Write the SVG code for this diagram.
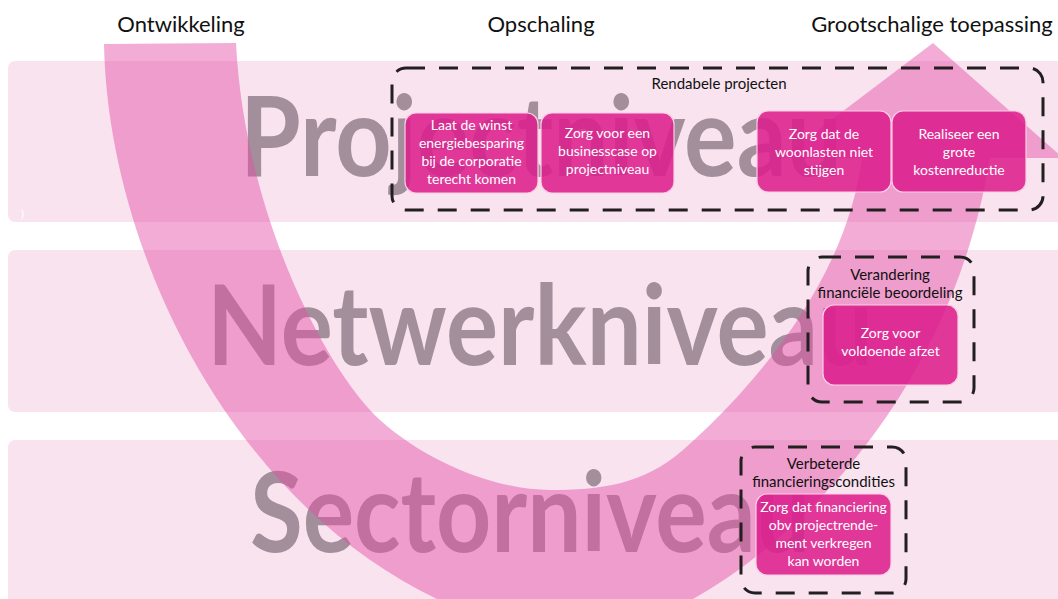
<svg xmlns="http://www.w3.org/2000/svg" width="1058" height="599" viewBox="0 0 1058 599">
<style>
.band{fill:#f9e3ef}
.big{font-family:Lato,"Open Sans",sans-serif;font-weight:700;font-size:112px;fill:#a38e9b}
.hdr{font-family:Lato,"Open Sans",sans-serif;font-size:22px;fill:#111;text-anchor:middle}
.grp{fill:none;stroke:#231f20;stroke-width:3;stroke-dasharray:19 14;stroke-linecap:butt}
.glbl{font-family:Lato,"Open Sans",sans-serif;font-size:15px;fill:#111;text-anchor:middle}
.box{fill:#dc1f8d;fill-opacity:0.88;stroke:#f9cfe5;stroke-width:1.2}
.btxt{font-family:Lato,"Open Sans",sans-serif;font-size:14px;fill:#fff;text-anchor:middle}
</style>
<rect width="1058" height="599" fill="#fff"/>
<g id="bands">
<rect class="band" x="8" y="61" width="1070" height="161" rx="7"/>
<rect class="band" x="8" y="250" width="1070" height="162" rx="7"/>
<rect class="band" x="8" y="440" width="1070" height="180" rx="7"/>
<text x="21" y="218" font-family="Lato,sans-serif" font-size="11" fill="#fff">)</text>
</g>
<g id="levels">
<text class="big" x="240" y="176" textLength="602" lengthAdjust="spacingAndGlyphs">Projectniveau</text>
<text class="big" x="207" y="365" textLength="666" lengthAdjust="spacingAndGlyphs">Netwerkniveau</text>
<text class="big" x="250" y="552" textLength="560" lengthAdjust="spacingAndGlyphs">Sectorniveau</text>
</g>
<g id="connectors">
<path id="arrow" fill="#e34fa5" fill-opacity="0.47" d="M104,44 C108,250 230,500 437,599 C497,628 633,628 693,599 C790,545 950,400 990,158 L1063,158 L933,43 L781,158 L862,158 C845,290 740,400 683,450 C643,485 600,490 550,490 C500,490 430,465 380,420 C330,375 245,220 236,43 Z"/>
</g>
<g id="headers">
<text class="hdr" x="181" y="32">Ontwikkeling</text>
<text class="hdr" x="541" y="32">Opschaling</text>
<text class="hdr" x="932" y="32">Grootschalige toepassing</text>
</g>
<g id="box1">
<rect class="box" x="405" y="113" width="133" height="80" rx="11"/>
<text class="btxt" x="471.5" y="130">Laat de winst</text>
<text class="btxt" x="471.5" y="148">energiebesparing</text>
<text class="btxt" x="471.5" y="166">bij de corporatie</text>
<text class="btxt" x="471.5" y="184">terecht komen</text>
</g>
<g id="box2">
<rect class="box" x="541" y="113" width="133" height="80" rx="11"/>
<text class="btxt" x="607.5" y="138">Zorg voor een</text>
<text class="btxt" x="607.5" y="156">businesscase op</text>
<text class="btxt" x="607.5" y="174">projectniveau</text>
</g>
<g id="box3">
<rect class="box" x="757" y="111" width="134" height="81" rx="11"/>
<text class="btxt" x="824" y="139">Zorg dat de</text>
<text class="btxt" x="824" y="157">woonlasten niet</text>
<text class="btxt" x="824" y="175">stijgen</text>
</g>
<g id="box4">
<rect class="box" x="892" y="111" width="134" height="81" rx="11"/>
<text class="btxt" x="959" y="139">Realiseer een</text>
<text class="btxt" x="959" y="157">grote</text>
<text class="btxt" x="959" y="175">kostenreductie</text>
</g>
<g id="box5">
<rect class="box" x="823" y="305" width="135" height="80" rx="11"/>
<text class="btxt" x="890.5" y="338">Zorg voor</text>
<text class="btxt" x="890.5" y="356">voldoende afzet</text>
</g>
<g id="box6">
<rect class="box" x="756" y="494" width="135" height="81" rx="11"/>
<text class="btxt" x="823.5" y="512">Zorg dat financiering</text>
<text class="btxt" x="823.5" y="530">obv projectrende-</text>
<text class="btxt" x="823.5" y="548">ment verkregen</text>
<text class="btxt" x="823.5" y="566">kan worden</text>
</g>
<g id="group-rendabele">
<rect class="grp" x="392" y="68" width="651" height="142" rx="14"/>
<text class="glbl" x="719" y="89">Rendabele projecten</text>
</g>
<g id="group-verandering">
<rect class="grp" x="808" y="257" width="166" height="145" rx="14"/>
<text class="glbl" x="890" y="280">Verandering</text>
<text class="glbl" x="890" y="298">financiële beoordeling</text>
</g>
<g id="group-verbeterde">
<rect class="grp" x="741" y="447" width="165" height="146" rx="14"/>
<text class="glbl" x="823.5" y="469">Verbeterde</text>
<text class="glbl" x="823.5" y="487">financieringscondities</text>
</g>
</svg>
